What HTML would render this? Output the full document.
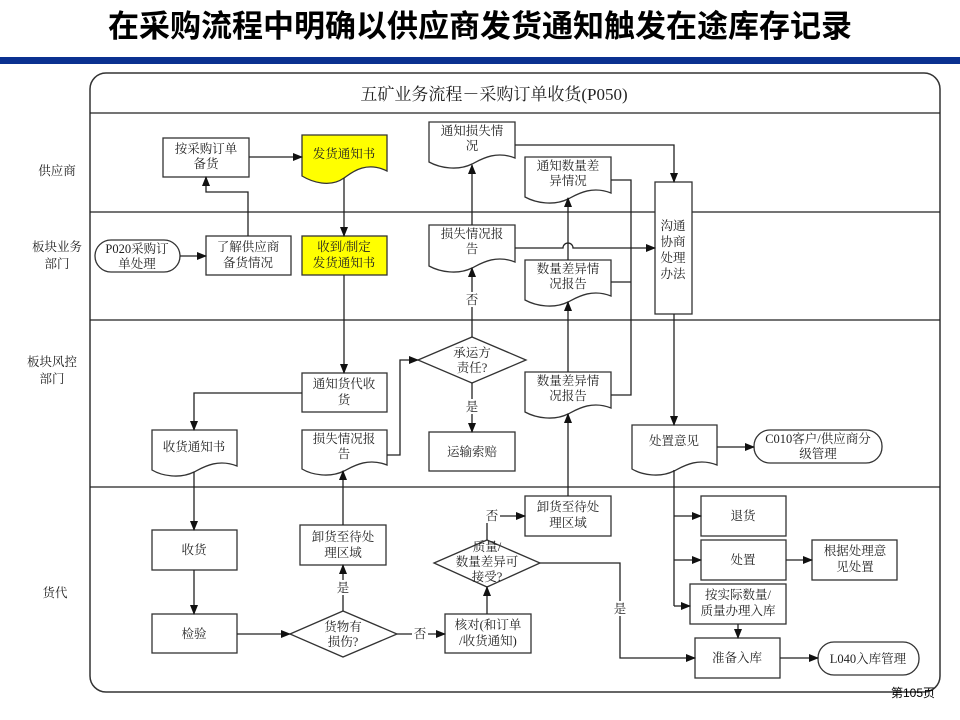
<!DOCTYPE html>
<html><head><meta charset="utf-8"><style>
body{margin:0;width:960px;height:720px;background:#fff;overflow:hidden}
svg{display:block}
text{font-family:"Liberation Serif","Noto Serif CJK SC","Noto Sans CJK SC",serif;font-size:12.5px;fill:#222;text-anchor:middle}
.t{font-family:"Liberation Sans","Noto Sans CJK SC",sans-serif;font-weight:bold;font-size:31px;fill:#000}
.s{fill:#fff;stroke:#333;stroke-width:1.3}
.y{fill:#ffff00;stroke:#333;stroke-width:1.3}
.l{fill:none;stroke:#222;stroke-width:1.3;marker-end:url(#a)}
.n{fill:none;stroke:#222;stroke-width:1.3}
</style></head><body>
<svg width="960" height="720" viewBox="0 0 960 720">
<defs><marker id="a" markerWidth="10" markerHeight="8" refX="9" refY="4" orient="auto" markerUnits="userSpaceOnUse"><path d="M0,0 L10,4 L0,8 Z" fill="#111"/></marker></defs>
<text x="480" y="37" class="t">在采购流程中明确以供应商发货通知触发在途库存记录</text>
<rect x="0" y="57" width="960" height="7" fill="#0a3190"/>
<rect x="90" y="73" width="850" height="619" rx="16" fill="none" stroke="#333" stroke-width="1.5"/>
<line x1="90" y1="113" x2="940" y2="113" stroke="#222" stroke-width="1.2"/>
<line x1="90" y1="212" x2="940" y2="212" stroke="#222" stroke-width="1.2"/>
<line x1="90" y1="320" x2="940" y2="320" stroke="#222" stroke-width="1.2"/>
<line x1="90" y1="487" x2="940" y2="487" stroke="#222" stroke-width="1.2"/>
<text x="494" y="100" style="font-size:17px">五矿业务流程－采购订单收货(P050)</text>
<text x="57" y="175">供应商</text>
<text x="57" y="251">板块业务</text><text x="57" y="268">部门</text>
<text x="52" y="366">板块风控</text><text x="52" y="383">部门</text>
<text x="55" y="597">货代</text>

<!-- shapes -->
<rect class="s" x="163" y="138" width="86" height="39"/><text x="206" y="153">按采购订单</text><text x="206" y="168">备货</text>
<path class="y" d="M302,135 H387 V171 C365,160 350,174 344,178 C330,188 312,182 302,176 Z"/><text x="344" y="158">发货通知书</text>
<rect class="s" x="95" y="240" width="85" height="32" rx="16"/><text x="137" y="253">P020采购订</text><text x="137" y="268">单处理</text>
<rect class="s" x="206" y="236" width="85" height="39"/><text x="248" y="251">了解供应商</text><text x="248" y="267">备货情况</text>
<rect class="y" x="302" y="236" width="85" height="39"/><text x="344" y="251">收到/制定</text><text x="344" y="267">发货通知书</text>
<path class="s" d="M429,122 H515 V158 C495,150 480,160 472,164 C458,171 440,168 429,162 Z"/><text x="472" y="135">通知损失情</text><text x="472" y="150">况</text>
<path class="s" d="M525,157 H611 V193 C591,185 576,195 568,199 C554,206 536,203 525,197 Z"/><text x="568" y="170">通知数量差</text><text x="568" y="185">异情况</text>
<rect class="s" x="655" y="182" width="37" height="132"/><text x="673" y="230">沟通</text><text x="673" y="246">协商</text><text x="673" y="262">处理</text><text x="673" y="278">办法</text>
<path class="s" d="M429,225 H515 V262 C495,254 480,264 472,268 C458,275 440,272 429,266 Z"/><text x="472" y="238">损失情况报</text><text x="472" y="253">告</text>
<path class="s" d="M525,260 H611 V296 C591,288 576,298 568,302 C554,309 536,306 525,300 Z"/><text x="568" y="273">数量差异情</text><text x="568" y="288">况报告</text>
<path class="s" d="M418,360 L472,337 L526,360 L472,383 Z"/><text x="472" y="357">承运方</text><text x="472" y="372">责任?</text>
<rect class="s" x="302" y="373" width="85" height="39"/><text x="344" y="388">通知货代收</text><text x="344" y="404">货</text>
<path class="s" d="M152,430 H237 V466 C217,458 202,468 194,472 C180,479 162,476 152,470 Z"/><text x="194" y="451">收货通知书</text>
<path class="s" d="M302,430 H387 V465 C367,457 352,467 344,471 C330,478 312,475 302,469 Z"/><text x="344" y="443">损失情况报</text><text x="344" y="458">告</text>
<rect class="s" x="429" y="432" width="86" height="39"/><text x="472" y="456">运输索赔</text>
<path class="s" d="M525,372 H611 V408 C591,400 576,410 568,414 C554,421 536,418 525,412 Z"/><text x="568" y="385">数量差异情</text><text x="568" y="400">况报告</text>
<path class="s" d="M632,425 H717 V465 C697,457 682,467 674,471 C660,478 642,475 632,469 Z"/><text x="674" y="445">处置意见</text>
<rect class="s" x="754" y="430" width="128" height="33" rx="16"/><text x="818" y="443">C010客户/供应商分</text><text x="818" y="458">级管理</text>
<rect class="s" x="152" y="530" width="85" height="40"/><text x="194" y="554">收货</text>
<rect class="s" x="152" y="614" width="85" height="39"/><text x="194" y="638">检验</text>
<rect class="s" x="300" y="525" width="86" height="40"/><text x="343" y="541">卸货至待处</text><text x="343" y="557">理区域</text>
<path class="s" d="M290,634 L343,611 L397,634 L343,657 Z"/><text x="343" y="631">货物有</text><text x="343" y="646">损伤?</text>
<rect class="s" x="445" y="614" width="86" height="39"/><text x="488" y="629">核对(和订单</text><text x="488" y="645">/收货通知)</text>
<path class="s" d="M434,563 L487,540 L540,563 L487,587 Z"/><text x="487" y="551">质量/</text><text x="487" y="566">数量差异可</text><text x="487" y="581">接受?</text>
<rect class="s" x="525" y="496" width="86" height="40"/><text x="568" y="511">卸货至待处</text><text x="568" y="527">理区域</text>
<rect class="s" x="701" y="496" width="85" height="40"/><text x="743" y="520">退货</text>
<rect class="s" x="701" y="540" width="85" height="40"/><text x="743" y="564">处置</text>
<rect class="s" x="812" y="540" width="85" height="40"/><text x="855" y="555">根据处理意</text><text x="855" y="571">见处置</text>
<rect class="s" x="690" y="584" width="96" height="40"/><text x="738" y="599">按实际数量/</text><text x="738" y="615">质量办理入库</text>
<rect class="s" x="695" y="638" width="85" height="40"/><text x="737" y="662">准备入库</text>
<rect class="s" x="818" y="642" width="101" height="33" rx="16"/><text x="868" y="663">L040入库管理</text>

<!-- connectors -->
<path class="l" d="M249,157 H302"/>
<path class="l" d="M248,236 V192 H206 V177"/>
<path class="l" d="M180,256 H206"/>
<path class="l" d="M344,178 V236"/>
<path class="l" d="M344,275 V373"/>
<path class="l" d="M302,393 H194 V430"/>
<path class="l" d="M194,472 V530"/>
<path class="l" d="M194,570 V614"/>
<path class="l" d="M237,634 H290"/>
<path class="l" d="M343,611 V565"/>
<path class="l" d="M343,525 V471"/>
<path class="l" d="M387,455 H400 V360 H418"/>
<path class="l" d="M472,337 V268"/>
<path class="l" d="M472,383 V432"/>
<path class="l" d="M472,225 V165"/>
<path class="l" d="M515,145 H674 V182"/>
<path class="l" d="M515,248 H563 A5,5 0 0 1 573,248 H655"/>
<path class="l" d="M568,260 V198"/>
<path class="l" d="M568,372 V302"/>
<path class="l" d="M568,496 V414"/>
<path class="n" d="M611,180 H631 V395 H611 M611,282 H631"/>
<path class="l" d="M674,314 V425"/>
<path class="l" d="M717,447 H754"/>
<path class="n" d="M674,470 V606"/>
<path class="l" d="M674,516 H701"/>
<path class="l" d="M674,560 H701"/>
<path class="l" d="M674,606 H690"/>
<path class="l" d="M786,560 H812"/>
<path class="l" d="M738,624 V638"/>
<path class="l" d="M780,658 H818"/>
<path class="l" d="M397,634 H445"/>
<path class="l" d="M487,614 V587"/>
<path class="l" d="M487,540 V516 H525"/>
<path class="l" d="M540,563 H620 V658 H695"/>
<!-- edge labels -->
<rect x="464" y="292" width="16" height="15" fill="#fff"/><text x="472" y="304">否</text>
<rect x="464" y="399" width="16" height="15" fill="#fff"/><text x="472" y="411">是</text>
<rect x="335" y="580" width="16" height="15" fill="#fff"/><text x="343" y="592">是</text>
<rect x="412" y="626" width="16" height="15" fill="#fff"/><text x="420" y="638">否</text>
<rect x="484" y="508" width="16" height="15" fill="#fff"/><text x="492" y="520">否</text>
<rect x="612" y="601" width="16" height="15" fill="#fff"/><text x="620" y="613">是</text>
<text x="913" y="697" style="font-family:'Liberation Sans','Noto Sans CJK SC',sans-serif;font-size:12px;fill:#000">第105页</text>
</svg>
</body></html>
